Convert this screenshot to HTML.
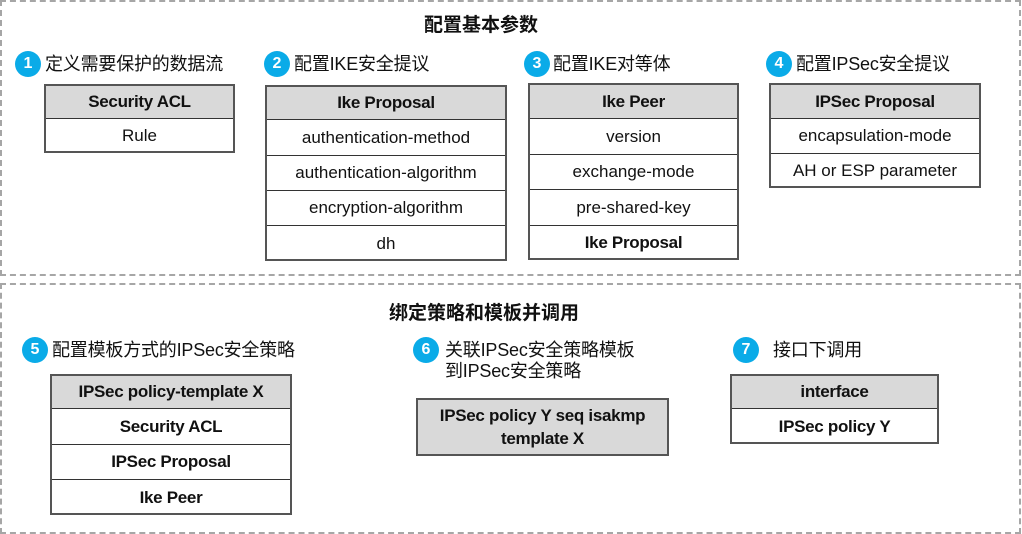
<!DOCTYPE html>
<html><head><meta charset="utf-8"><style>
body{margin:0;width:1022px;height:534px;background:#fff;position:relative;font-family:"Liberation Sans","Noto Sans CJK SC",sans-serif;overflow:hidden}
.box{position:absolute;border:2px dashed #a6a6a6;box-sizing:border-box}
.t{position:absolute;font-weight:bold;font-size:19px;color:#111;white-space:nowrap;transform:translateX(-50%)}
.c{position:absolute;width:26px;height:26px;border-radius:50%;background:#0aabe8;color:#fff;font-weight:bold;font-size:16px;text-align:center;line-height:26px}
.l{position:absolute;font-size:18px;color:#111;white-space:nowrap;line-height:21px;letter-spacing:-0.2px}
.tb{position:absolute;border:2px solid #555;box-sizing:border-box}
.tb div{border-top:1.5px solid #333;box-sizing:border-box;text-align:center;font-size:17px;color:#111;display:flex;align-items:center;justify-content:center}
.tb div:first-child{border-top:none}
.h{background:#d9d9d9;font-weight:bold;letter-spacing:-0.3px}
.b{font-weight:bold;letter-spacing:-0.3px}
</style></head><body>
<div class="box" style="left:0;top:0;width:1021px;height:276px"></div>
<div class="box" style="left:0;top:283px;width:1021px;height:251px"></div>
<div class="t" style="left:481px;top:10px">配置基本参数</div>
<div class="t" style="left:484px;top:298px">绑定策略和模板并调用</div>

<div class="c" style="left:15px;top:51px">1</div><div class="l" style="left:45px;top:54px">定义需要保护的数据流</div>
<div class="c" style="left:264px;top:51px">2</div><div class="l" style="left:294px;top:54px">配置IKE安全提议</div>
<div class="c" style="left:524px;top:51px">3</div><div class="l" style="left:553px;top:54px">配置IKE对等体</div>
<div class="c" style="left:766px;top:51px">4</div><div class="l" style="left:796px;top:54px">配置IPSec安全提议</div>
<div class="c" style="left:22px;top:337px">5</div><div class="l" style="left:52px;top:340px">配置模板方式的IPSec安全策略</div>
<div class="c" style="left:413px;top:337px">6</div><div class="l" style="left:445px;top:340px">关联IPSec安全策略模板<br>到IPSec安全策略</div>
<div class="c" style="left:733px;top:337px">7</div><div class="l" style="left:773px;top:340px">接口下调用</div>

<div class="tb" style="left:44px;top:84px;width:191px;height:69px">
<div class="h" style="height:32px">Security ACL</div><div style="height:35px">Rule</div></div>

<div class="tb" style="left:265px;top:85px;width:242px;height:176px">
<div class="h" style="height:32px">Ike Proposal</div><div style="height:36px">authentication-method</div><div style="height:35px">authentication-algorithm</div><div style="height:35px">encryption-algorithm</div><div style="height:36px">dh</div></div>

<div class="tb" style="left:528px;top:83px;width:211px;height:177px">
<div class="h" style="height:33px">Ike Peer</div><div style="height:36px">version</div><div style="height:35px">exchange-mode</div><div style="height:36px">pre-shared-key</div><div class="b" style="height:35px">Ike Proposal</div></div>

<div class="tb" style="left:769px;top:83px;width:212px;height:105px">
<div class="h" style="height:33px">IPSec Proposal</div><div style="height:35px">encapsulation-mode</div><div style="height:35px">AH or ESP parameter</div></div>

<div class="tb" style="left:50px;top:374px;width:242px;height:141px">
<div class="h" style="height:32px">IPSec policy-template X</div><div class="b" style="height:36px">Security ACL</div><div class="b" style="height:35px">IPSec Proposal</div><div class="b" style="height:36px">Ike Peer</div></div>

<div class="tb" style="left:416px;top:398px;width:253px;height:58px">
<div class="h" style="height:54px;line-height:23px">IPSec policy Y seq isakmp<br>template X</div></div>

<div class="tb" style="left:730px;top:374px;width:209px;height:70px">
<div class="h" style="height:32px">interface</div><div class="b" style="height:36px">IPSec policy Y</div></div>
</body></html>
